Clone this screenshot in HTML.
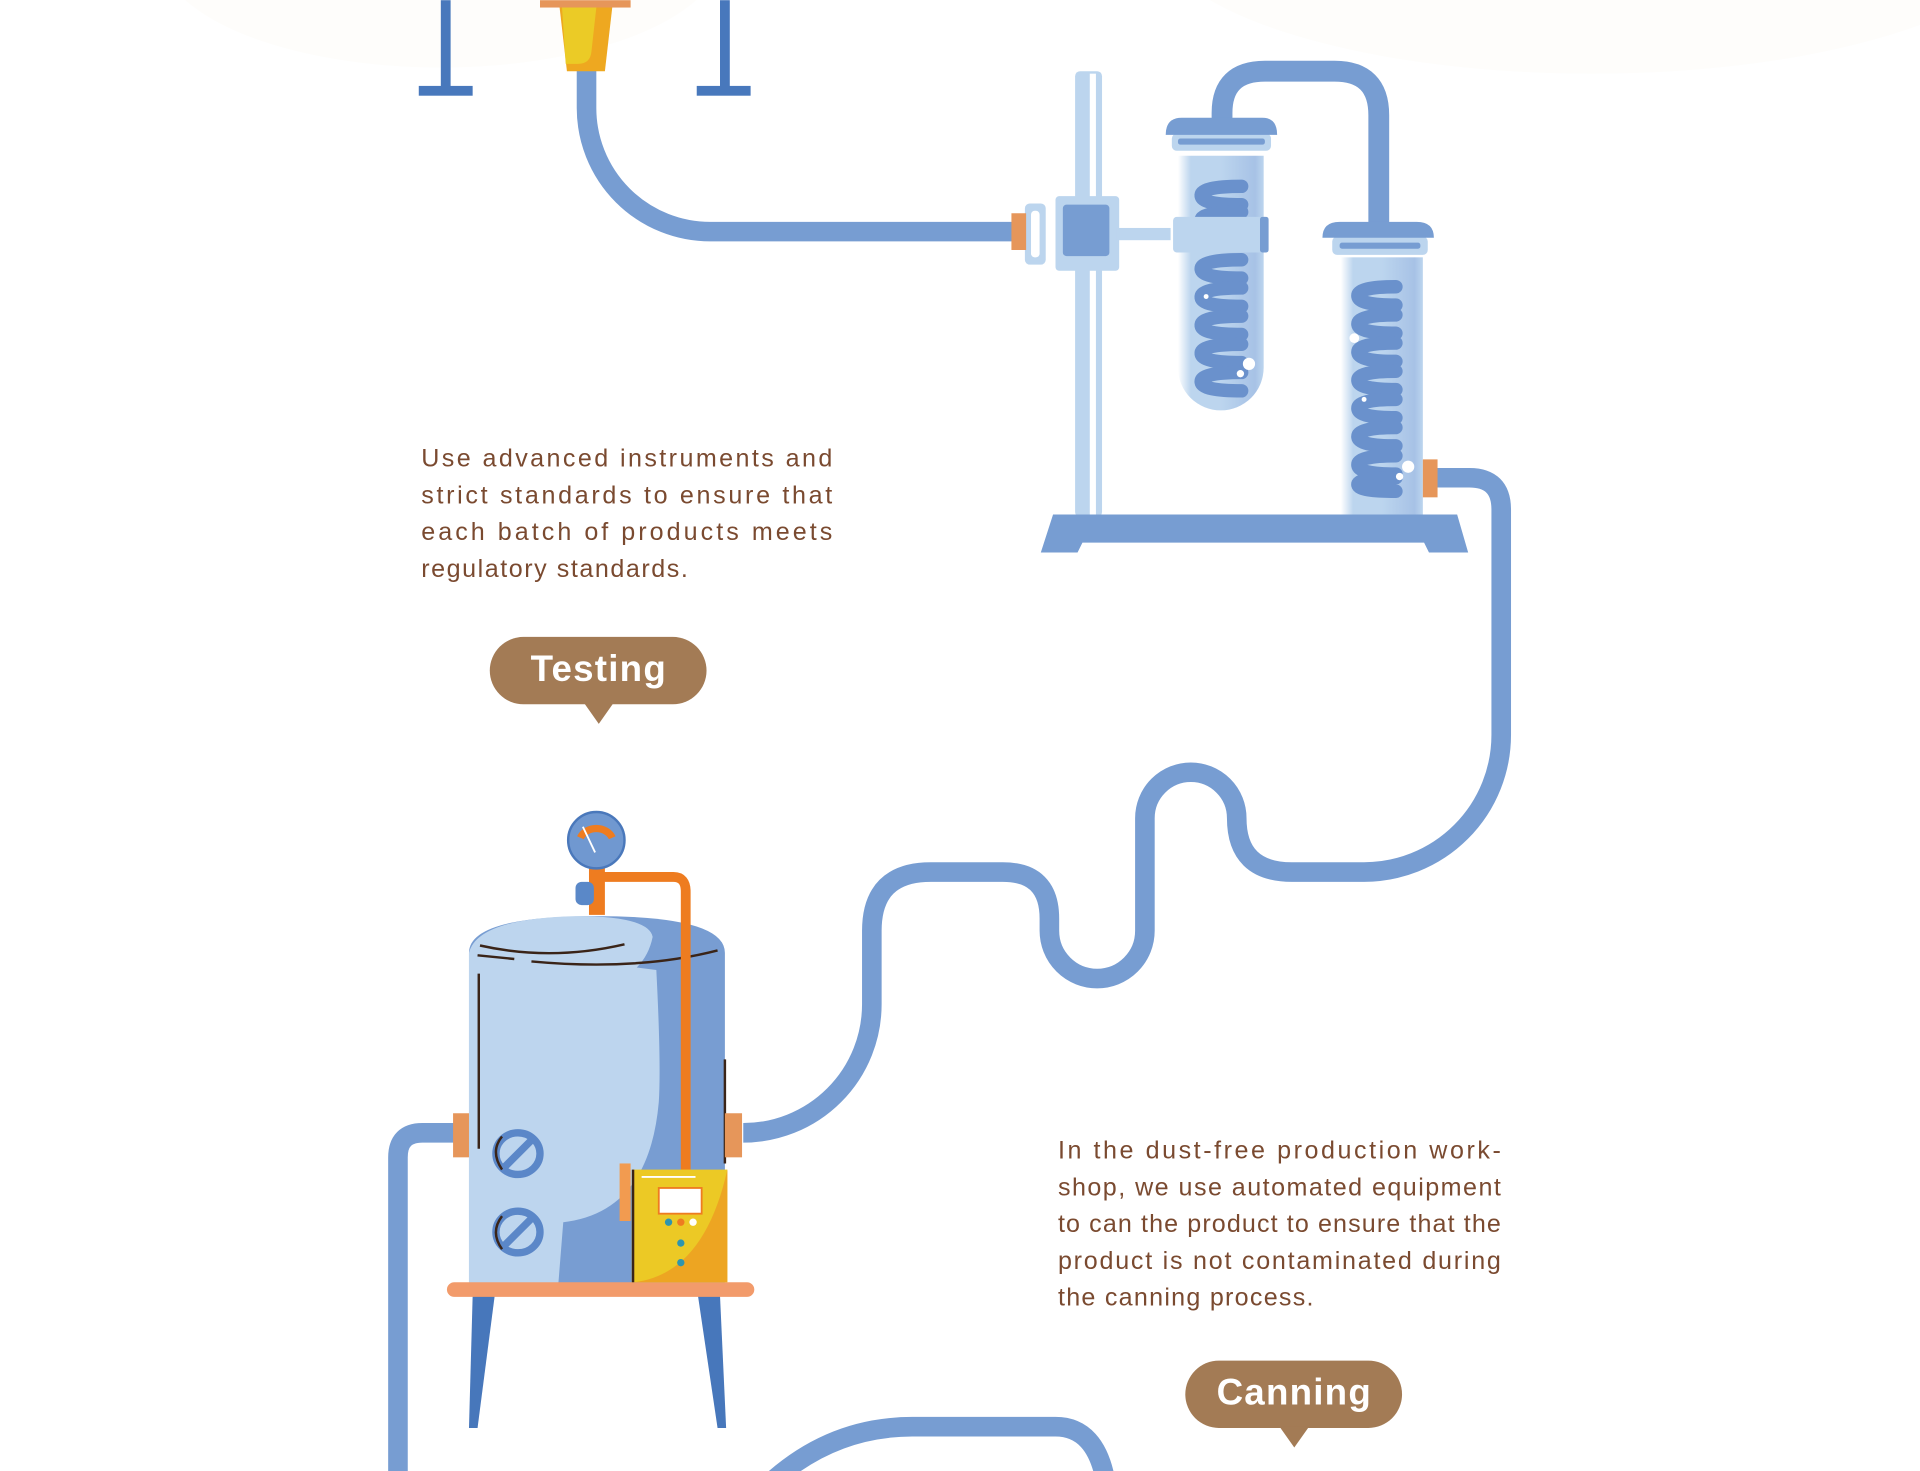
<!DOCTYPE html>
<html><head><meta charset="utf-8"><style>
html,body{margin:0;padding:0;background:#fff;}
svg{display:block;}
text{font-family:"Liberation Sans",sans-serif;}
</style></head><body>
<svg width="1920" height="1471" viewBox="0 0 1568 1201" xmlns="http://www.w3.org/2000/svg">
<defs>
<linearGradient id="tg" x1="0" x2="1" y1="0" y2="0">
<stop offset="0" stop-color="#ffffff"/><stop offset="0.15" stop-color="#bcd5ee"/><stop offset="0.5" stop-color="#bcd5ee"/><stop offset="0.9" stop-color="#a7c2e6"/><stop offset="1" stop-color="#bcd5ee"/>
</linearGradient>
</defs>
<rect width="1568" height="1201" fill="#fff"/>
<ellipse cx="360" cy="-40" rx="230" ry="95" fill="#fefdfb"/>
<ellipse cx="1300" cy="-60" rx="360" ry="120" fill="#fefdfb"/>

<rect x="360" y="0" width="8" height="74" fill="#4878bc"/>
<rect x="342" y="70" width="44" height="8" fill="#4878bc"/>
<rect x="588" y="0" width="8" height="74" fill="#4878bc"/>
<rect x="569" y="70" width="44" height="8" fill="#4878bc"/>

<g fill="none" stroke="#779dd2" stroke-width="16" stroke-linejoin="round">
<path d="M479,56 V88 A101,101 0 0 0 580,189 H828"/>
<path d="M998,98 V92 Q998,58 1033,58 H1090 Q1126,58 1126,94 V184" stroke-width="17"/>
<path d="M1170,390 H1200 Q1226,390 1226,416 V600 A112,112 0 0 1 1114,712 H1055 Q1010,712 1010,668 A37.5,37.5 0 0 0 935,668 V760 A39,39 0 0 1 857,760 V750 Q857,712 819,712 H760 Q712,712 712,760 V820 A105,105 0 0 1 607,925"/>
<path d="M372,925 H345 Q325,925 325,945 V1210"/>
<path d="M630,1210 Q680,1165 745,1165 H862 Q895,1165 903,1210"/>
</g>

<rect x="441" y="0" width="74" height="6" fill="#e6965a"/>
<polygon points="457,6 500,6 494,58 463,58" fill="#eea820"/>
<path d="M459,6 H487 L483,42 Q482,52 472,52 H462 Z" fill="#ebcb26"/>

<rect x="878" y="58" width="22" height="364" rx="4" fill="#bcd5ee"/>
<rect x="890" y="60" width="5" height="360" fill="#fff"/>
<rect x="862" y="160" width="52" height="61" rx="3" fill="#bcd5ee"/>
<rect x="868" y="167" width="38" height="42" rx="3" fill="#779dd2"/>
<rect x="912" y="186" width="44" height="10" fill="#bcd5ee"/>
<rect x="837" y="166" width="17" height="50" rx="4" fill="#bcd5ee"/>
<rect x="842" y="172" width="7" height="38" rx="3" fill="#fff"/>
<rect x="826" y="174" width="12" height="30" fill="#e6965a"/>

<path d="M962,127 H1032 V300 A35,35 0 0 1 962,300 Z" fill="url(#tg)"/>
<rect x="957" y="109" width="81" height="14" rx="4" fill="#bcd5ee"/>
<rect x="962" y="113" width="71" height="5" rx="2" fill="#779dd2"/>
<path d="M952,110 Q952,96 965,96 H1031 Q1043,96 1043,110 Z" fill="#779dd2"/>
<g fill="none" stroke="#6a91cc" stroke-width="11" stroke-linecap="round">
<path d="M1014,152 Q980,152 981,160 Q982,167 1014,167"/>
<path d="M1014,173 Q980,173 981,180 Q982,186 1014,186"/>
<path d="M1014,212 Q980,212 981,220 Q982,227 1014,227"/>
<path d="M1014,235 Q980,235 981,243 Q982,250 1014,250"/>
<path d="M1014,258 Q980,258 981,266 Q982,273 1014,273"/>
<path d="M1014,281 Q980,281 981,289 Q982,296 1014,296"/>
<path d="M1014,304 Q980,304 981,312 Q982,319 1014,319"/>
</g>
<rect x="958" y="177" width="78" height="29" rx="3" fill="#bcd5ee"/>
<rect x="1029" y="177" width="7" height="29" rx="2" fill="#779dd2"/>
<circle cx="1020" cy="297" r="5" fill="#fff"/><circle cx="1013" cy="305" r="3" fill="#fff"/><circle cx="985" cy="242" r="2" fill="#fff"/>

<rect x="1095" y="210" width="67" height="212" fill="url(#tg)"/>
<rect x="1088" y="193" width="78" height="15" rx="4" fill="#bcd5ee"/>
<rect x="1094" y="198" width="66" height="5" rx="2" fill="#779dd2"/>
<path d="M1080,194 Q1080,181 1094,181 H1157 Q1171,181 1171,194 Z" fill="#779dd2"/>
<g fill="none" stroke="#6a91cc" stroke-width="11" stroke-linecap="round">
<path d="M1140,234 Q1108,234 1109,242 Q1110,249 1140,249"/>
<path d="M1140,257 Q1108,257 1109,265 Q1110,272 1140,272"/>
<path d="M1140,280 Q1108,280 1109,288 Q1110,295 1140,295"/>
<path d="M1140,303 Q1108,303 1109,311 Q1110,318 1140,318"/>
<path d="M1140,326 Q1108,326 1109,334 Q1110,341 1140,341"/>
<path d="M1140,349 Q1108,349 1109,357 Q1110,364 1140,364"/>
<path d="M1140,372 Q1108,372 1109,380 Q1110,387 1140,387"/>
<path d="M1140,390 Q1108,390 1109,396 Q1110,401 1140,401"/>
</g>
<circle cx="1150" cy="381" r="5" fill="#fff"/><circle cx="1143" cy="389" r="3" fill="#fff"/><circle cx="1106" cy="276" r="4" fill="#fff"/><circle cx="1114" cy="326" r="2" fill="#fff"/>
<rect x="1162" y="375" width="12" height="31" fill="#e6965a"/>
<polygon points="860,420 1190,420 1199,451 1167,451 1163,443 884,443 880,451 850,451" fill="#779dd2"/>

<g fill="#7a4a30" font-size="20.5" letter-spacing="0.3">
<text x="344" y="381" textLength="336" lengthAdjust="spacing">Use advanced instruments and</text>
<text x="344" y="411" textLength="336" lengthAdjust="spacing">strict standards to ensure that</text>
<text x="344" y="441" textLength="336" lengthAdjust="spacing">each batch of products meets</text>
<text x="344" y="471" textLength="218" lengthAdjust="spacing">regulatory standards.</text>
</g>
<rect x="400" y="520" width="177" height="55" rx="27.5" fill="#a37b55"/>
<polygon points="477,574 501,574 489,591" fill="#a37b55"/>
<text x="489" y="556" text-anchor="middle" font-size="30" font-weight="bold" fill="#fff" letter-spacing="1">Testing</text>

<g fill="#7a4a30" font-size="20.5" letter-spacing="0.3">
<text x="864" y="946" textLength="362" lengthAdjust="spacing">In the dust-free production work-</text>
<text x="864" y="976" textLength="362" lengthAdjust="spacing">shop, we use automated equipment</text>
<text x="864" y="1006" textLength="362" lengthAdjust="spacing">to can the product to ensure that the</text>
<text x="864" y="1036" textLength="362" lengthAdjust="spacing">product is not contaminated during</text>
<text x="864" y="1066" textLength="209" lengthAdjust="spacing">the canning process.</text>
</g>
<rect x="968" y="1111" width="177" height="55" rx="27.5" fill="#a37b55"/>
<polygon points="1045,1165 1069,1165 1057,1182" fill="#a37b55"/>
<text x="1057" y="1147" text-anchor="middle" font-size="30" font-weight="bold" fill="#fff" letter-spacing="1">Canning</text>

<polygon points="386,1058 404,1058 390,1166 383,1166" fill="#4777bb"/>
<polygon points="570,1058 588,1058 593,1166 586,1166" fill="#4777bb"/>
<path d="M383,778 Q383,748 487,748 Q592,748 592,778 V1048 H383 Z" fill="#789dd2"/>
<path d="M383,778 Q390,750 470,748 Q530,748 533,765 Q530,780 520,790 L536,792 Q540,870 538,900 Q530,990 460,998 L456,1048 H383 Z" fill="#bdd5ee"/>
<path d="M392,772 Q450,785 510,771" fill="none" stroke="#3a2418" stroke-width="2"/>
<path d="M390,780 L420,783 M434,785 Q520,793 586,776" fill="none" stroke="#3a2418" stroke-width="2"/>
<line x1="391" y1="795" x2="391" y2="938" stroke="#3a2418" stroke-width="2"/>
<line x1="592" y1="865" x2="592" y2="950" stroke="#3a2418" stroke-width="2"/>
<g fill="none" stroke="#5b87c8" stroke-width="6">
<ellipse cx="423" cy="942" rx="18" ry="17"/><line x1="412" y1="953" x2="434" y2="931"/>
<ellipse cx="423" cy="1006" rx="18" ry="17"/><line x1="412" y1="1017" x2="434" y2="995"/>
</g>
<path d="M410,955 Q400,940 410,928" fill="none" stroke="#3a2418" stroke-width="2"/>
<path d="M410,1020 Q400,1006 410,993" fill="none" stroke="#3a2418" stroke-width="2"/>
<rect x="370" y="909" width="13" height="36" fill="#e6965a"/>
<rect x="592" y="909" width="14" height="36" fill="#e6965a"/>
<rect x="365" y="1047" width="251" height="12" rx="6" fill="#f29b6b"/>
<rect x="481" y="707" width="13" height="40" fill="#ee7c20"/>
<path d="M490,716 H550 Q560,716 560,728 V956" fill="none" stroke="#ee7c20" stroke-width="8"/>
<rect x="470" y="720" width="15" height="19" rx="5" fill="#5a88c8"/>
<circle cx="487" cy="686" r="23" fill="#7098d0" stroke="#4a78bb" stroke-width="2"/>
<path d="M474,684 A14,12 0 0 1 500,684" fill="none" stroke="#ee7c20" stroke-width="6"/>
<line x1="476" y1="675" x2="486" y2="696" stroke="#fff" stroke-width="1.5"/>
<rect x="506" y="950" width="9" height="47" fill="#f29b50"/>
<rect x="516" y="955" width="78" height="92" fill="#ecc925"/>
<path d="M594,955 V1047 H518 Q575,1040 594,955 Z" fill="#eda522"/>
<line x1="517" y1="955" x2="517" y2="1047" stroke="#3a2418" stroke-width="2"/>
<line x1="524" y1="961" x2="568" y2="961" stroke="#fff" stroke-width="1.5"/>
<rect x="538" y="970" width="35" height="21" fill="#fff" stroke="#ee7c20" stroke-width="1.5"/>
<circle cx="546" cy="998" r="3" fill="#2f95ae"/><circle cx="556" cy="998" r="3" fill="#ee7c20"/><circle cx="566" cy="998" r="3" fill="#fff"/>
<circle cx="556" cy="1015" r="3" fill="#2f95ae"/><circle cx="556" cy="1031" r="3" fill="#2f95ae"/>
</svg>
</body></html>
